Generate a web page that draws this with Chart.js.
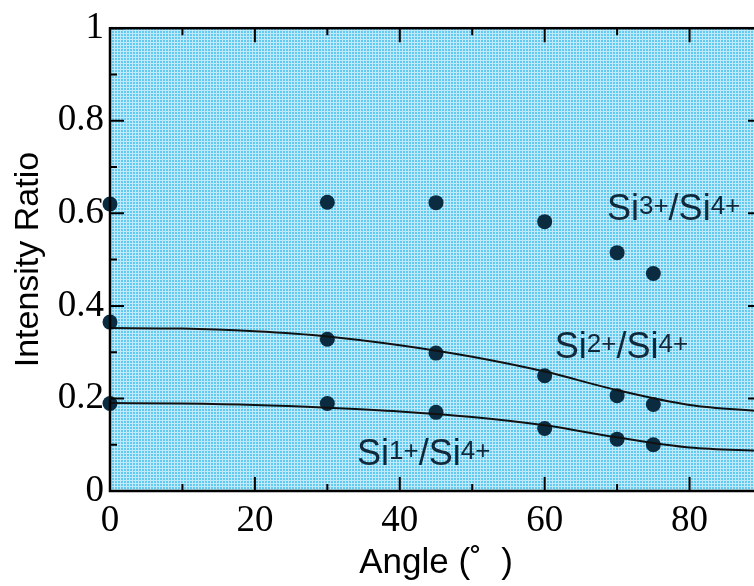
<!DOCTYPE html>
<html>
<head>
<meta charset="utf-8">
<script src="https://cdn.jsdelivr.net/npm/chart.js@4.4.0/dist/chart.umd.min.js"></script>
<style>
  html, body { margin: 0; padding: 0; background: #fff; overflow: hidden; }
  #wrap { width: 754px; height: 586px; overflow: hidden; }
</style>
</head>
<body>
<div id="wrap"><canvas id="chart" width="770" height="586"></canvas></div>
<script>
// measured points (angle in degrees, intensity ratio)
const angles = [0, 30, 45, 60, 70, 75];
const si3 = [0.62, 0.624, 0.623, 0.582, 0.515, 0.47];
const si2 = [0.365, 0.328, 0.298, 0.249, 0.206, 0.187];
const si1 = [0.189, 0.189, 0.17, 0.135, 0.112, 0.10];

// fitted curves
const fitAngles = [0, 10, 20, 30, 40, 50, 60, 70, 80, 90];
const fit2 = [0.352, 0.351, 0.345, 0.334, 0.315, 0.29, 0.258, 0.218, 0.186, 0.172];
const fit1 = [0.19, 0.189, 0.186, 0.18, 0.172, 0.16, 0.142, 0.116, 0.094, 0.087];

const xTicks = [0, 20, 40, 60, 80];
const yTicks = [0, 0.2, 0.4, 0.6, 0.8, 1];

const toXY = (xs, ys) => xs.map((x, i) => ({ x: x, y: ys[i] }));

// textured light blue plot background
function makePattern(ctx) {
  const tile = document.createElement('canvas');
  tile.width = 3; tile.height = 3;
  const t = tile.getContext('2d');
  t.fillStyle = '#62caf0';
  t.fillRect(0, 0, 3, 3);
  t.fillStyle = 'rgba(255,255,255,0.6)';
  t.fillRect(0, 0, 3, 1);
  t.fillRect(0, 1, 1, 2);
  return ctx.createPattern(tile, 'repeat');
}

const frame = {
  id: 'frame',
  beforeDatasetsDraw(chart) {
    const { ctx, chartArea: a } = chart;
    ctx.save();
    ctx.fillStyle = makePattern(ctx);
    ctx.fillRect(a.left, a.top, a.right - a.left, a.bottom - a.top);
    ctx.restore();
  },
  afterDatasetsDraw(chart) {
    const { ctx, chartArea: a, scales: { x, y } } = chart;
    ctx.save();
    // series labels
    const labels = [
      { ax: 68.6, ay: 0.586, n: '3+' },
      { ax: 61.4, ay: 0.288, n: '2+' },
      { ax: 34.1, ay: 0.056, n: '1+' }
    ];
    ctx.fillStyle = '#10283a';
    ctx.textBaseline = 'alphabetic';
    ctx.textAlign = 'left';
    labels.forEach(l => {
      let px = x.getPixelForValue(l.ax);
      const py = y.getPixelForValue(l.ay);
      const parts = [['Si', 0], [l.n, 1], ['/Si', 0], ['4+', 1]];
      parts.forEach(([s, sup]) => {
        ctx.font = sup ? '26px "Liberation Sans"' : '36px "Liberation Sans"';
        ctx.fillText(s, px, sup ? py - 6 : py);
        px += ctx.measureText(s).width;
      });
    });

    // inward ticks on all four sides
    ctx.strokeStyle = '#000';
    ctx.lineWidth = 2;
    ctx.beginPath();
    for (let v = 0; v <= 90; v += 10) {
      const px = x.getPixelForValue(v);
      const len = v % 20 === 0 ? 14 : 7;
      ctx.moveTo(px, a.bottom); ctx.lineTo(px, a.bottom - len);
      ctx.moveTo(px, a.top); ctx.lineTo(px, a.top + len);
    }
    for (let i = 0; i <= 10; i++) {
      const py = y.getPixelForValue(i / 10);
      const len = i % 2 === 0 ? 14 : 7;
      ctx.moveTo(a.left, py); ctx.lineTo(a.left + len, py);
      ctx.moveTo(a.right, py); ctx.lineTo(a.right - len, py);
    }
    ctx.stroke();
    ctx.lineWidth = 2.5;
    ctx.strokeRect(a.left, a.top, a.right - a.left, a.bottom - a.top);
    ctx.restore();
  }
};

const dotStyle = {
  type: 'scatter',
  showLine: false,
  pointRadius: 7.5,
  pointHoverRadius: 7.5,
  pointBackgroundColor: '#0b2c40',
  pointBorderColor: '#0b2c40',
  pointBorderWidth: 0,
  clip: false
};

const curveStyle = {
  type: 'line',
  borderColor: '#111',
  borderWidth: 2,
  pointRadius: 0,
  tension: 0.4,
  cubicInterpolationMode: 'monotone',
  fill: false
};

new Chart(document.getElementById('chart'), {
  data: {
    datasets: [
      { ...curveStyle, label: 'fit Si2+', data: toXY(fitAngles, fit2) },
      { ...curveStyle, label: 'fit Si1+', data: toXY(fitAngles, fit1) },
      { ...dotStyle, label: 'Si3+/Si4+', data: toXY(angles, si3) },
      { ...dotStyle, label: 'Si2+/Si4+', data: toXY(angles, si2) },
      { ...dotStyle, label: 'Si1+/Si4+', data: toXY(angles, si1) }
    ]
  },
  options: {
    responsive: false,
    animation: false,
    devicePixelRatio: 1,
    layout: { padding: { top: 25, right: 8, left: 0, bottom: 0 } },
    plugins: { legend: { display: false }, tooltip: { enabled: false } },
    scales: {
      x: {
        type: 'linear',
        min: 0,
        max: 90,
        grid: { display: false, drawTicks: false },
        border: { display: false },
        afterBuildTicks: s => { s.ticks = xTicks.map(v => ({ value: v })); },
        afterFit: s => { s.height = 95; },
        ticks: {
          color: '#000',
          padding: 8,
          maxRotation: 0,
          font: { family: '"Liberation Serif"', size: 37 }
        },
        title: {
          display: true,
          text: 'Angle (˚  )',
          color: '#000',
          padding: { top: 0, bottom: 2 },
          font: { family: '"Liberation Sans"', size: 35 }
        }
      },
      y: {
        type: 'linear',
        min: 0,
        max: 1,
        grid: { display: false, drawTicks: false },
        border: { display: false },
        afterBuildTicks: s => { s.ticks = yTicks.map(v => ({ value: v })); },
        afterFit: s => { s.width = 110; },
        ticks: {
          color: '#000',
          padding: 6,
          font: { family: '"Liberation Serif"', size: 37 },
          callback: v => String(Math.round(v * 10) / 10)
        },
        title: {
          display: true,
          text: 'Intensity Ratio',
          color: '#000',
          padding: { top: 8, bottom: 0 },
          font: { family: '"Liberation Sans"', size: 34 }
        }
      }
    }
  },
  plugins: [frame]
});
</script>
</body>
</html>
